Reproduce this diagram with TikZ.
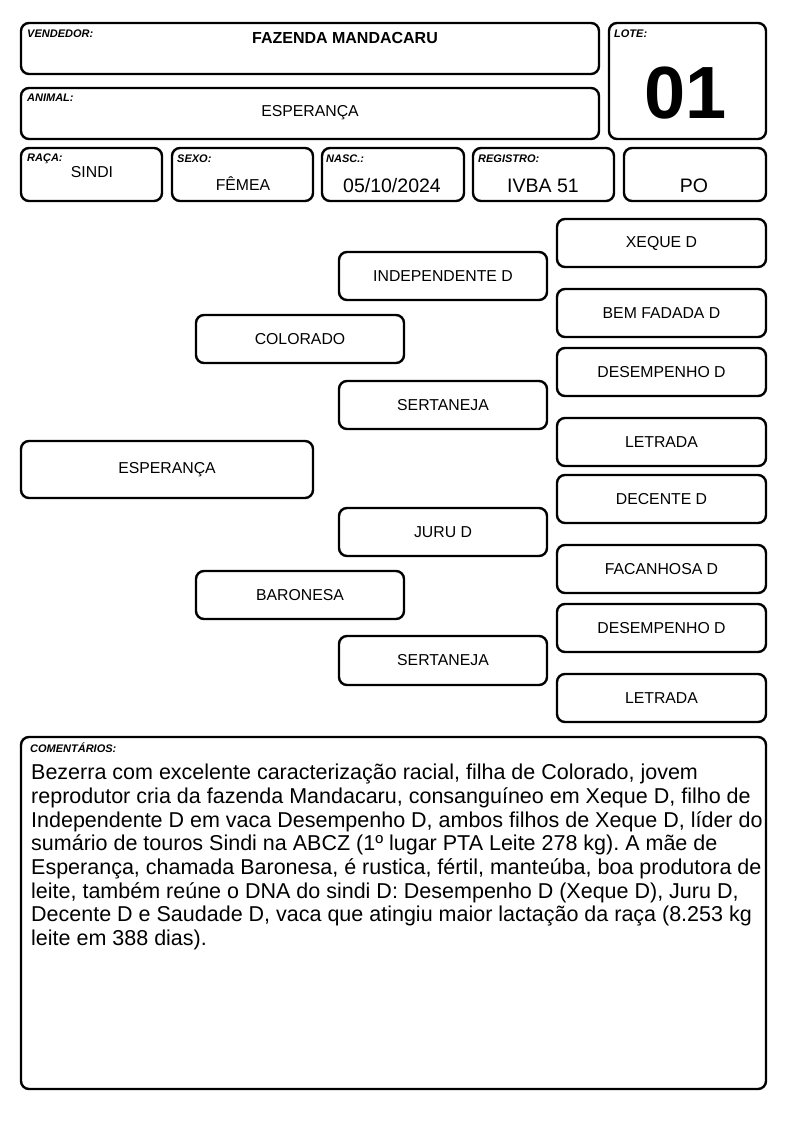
\documentclass[tikz,border=0pt]{standalone}
\usepackage{fontspec}
\setmainfont{Liberation Sans}
\frenchspacing
\begin{document}
\begin{tikzpicture}[x=1pt,y=-1pt,
  box/.style={draw,line width=2.4pt,rounded corners=8pt},
  lbl/.style={anchor=north west,inner sep=0pt,font=\fontsize{11}{12}\selectfont\bfseries\itshape},
  txt/.style={inner sep=0pt,font=\fontsize{15.8}{17}\selectfont},
  big/.style={inner sep=0pt,font=\fontsize{19.5}{20}\selectfont}]
\useasboundingbox (0,0) rectangle (794,1123);
% header boxes
\draw[box] (21,23) rectangle (599,74);
\draw[box] (609,23) rectangle (766,139);
\draw[box] (21,88) rectangle (599,139);
\draw[box] (21,148) rectangle (162,201);
\draw[box] (172,148) rectangle (313,201);
\draw[box] (322,148) rectangle (464,201);
\draw[box] (473,148) rectangle (614,201);
\draw[box] (624,148) rectangle (766,201);
\node[lbl] (l1) at (27,30) {VENDEDOR:};
\node[inner sep=0pt,font=\fontsize{16}{17}\selectfont\bfseries] (v1) at (345,38) {FAZENDA MANDACARU};
\node[lbl] (l2) at (614,30) {LOTE:};
\node[inner sep=0pt,font=\fontsize{74}{76}\selectfont\bfseries] (v2) at (686,93) {01};
\node[lbl] (l3) at (27,94) {ANIMAL:};
\node[txt] (v3) at (310,113) {ESPERANÇA};
\node[lbl] (l4) at (27,154) {RAÇA:};
\node[txt] (v4) at (92,172) {SINDI};
\node[lbl] (l5) at (177,155) {SEXO:};
\node[txt] (v5) at (243,184) {FÊMEA};
\node[lbl] (l6) at (326,155) {NASC.:};
\node[big] (v6) at (392,186) {05/10/2024};
\node[lbl] (l7) at (478,155) {REGISTRO:};
\node[big] (v7) at (543,186) {IVBA 51};
\node[big] (v8) at (694,186) {PO};
% pedigree
\newcommand{\pbox}[6]{\draw[box] (#1,#2) rectangle (#3,#4);
  \node[txt] (#5) at ({(#1+#3)/2},{(#2+#4)/2}) {#6};}
\pbox{21}{441}{313}{498}{esp}{ESPERANÇA}
\pbox{196}{315}{404}{363}{col}{COLORADO}
\pbox{196}{571}{404}{619}{bar}{BARONESA}
\pbox{339}{252}{547}{300}{ind}{INDEPENDENTE D}
\pbox{339}{381}{547}{429}{ser1}{SERTANEJA}
\pbox{339}{508}{547}{556}{jur}{JURU D}
\pbox{339}{636}{547}{685}{ser2}{SERTANEJA}
\pbox{557}{219}{766}{267}{xeq}{XEQUE D}
\pbox{557}{289}{766}{337}{bem}{BEM FADADA D}
\pbox{557}{348}{766}{396}{des1}{DESEMPENHO D}
\pbox{557}{418}{766}{466}{let1}{LETRADA}
\pbox{557}{475}{766}{523}{dec}{DECENTE D}
\pbox{557}{545}{766}{593}{fac}{FACANHOSA D}
\pbox{557}{604}{766}{652}{des2}{DESEMPENHO D}
\pbox{557}{674}{766}{722}{let2}{LETRADA}
% comments
\draw[box] (21,737) rectangle (766,1089);
\node[lbl] (l9) at (30,743) {COMENTÁRIOS:};
\node[anchor=north west,inner sep=0pt,align=left,font=\fontsize{21.5}{23.7}\selectfont] (com) at (31,764) {Bezerra com excelente caracterização racial, filha de Colorado, jovem\\
reprodutor cria da fazenda Mandacaru, consanguíneo em Xeque D, filho de\\
Independente D em vaca Desempenho D, ambos filhos de Xeque D, líder do\\
sumário de touros Sindi na ABCZ (1º lugar PTA Leite 278 kg). A mãe de\\
Esperança, chamada Baronesa, é rustica, fértil, manteúba, boa produtora de\\
leite, também reúne o DNA do sindi D: Desempenho D (Xeque D), Juru D,\\
Decente D e Saudade D, vaca que atingiu maior lactação da raça (8.253 kg\\
leite em 388 dias).};
\end{tikzpicture}
\end{document}
